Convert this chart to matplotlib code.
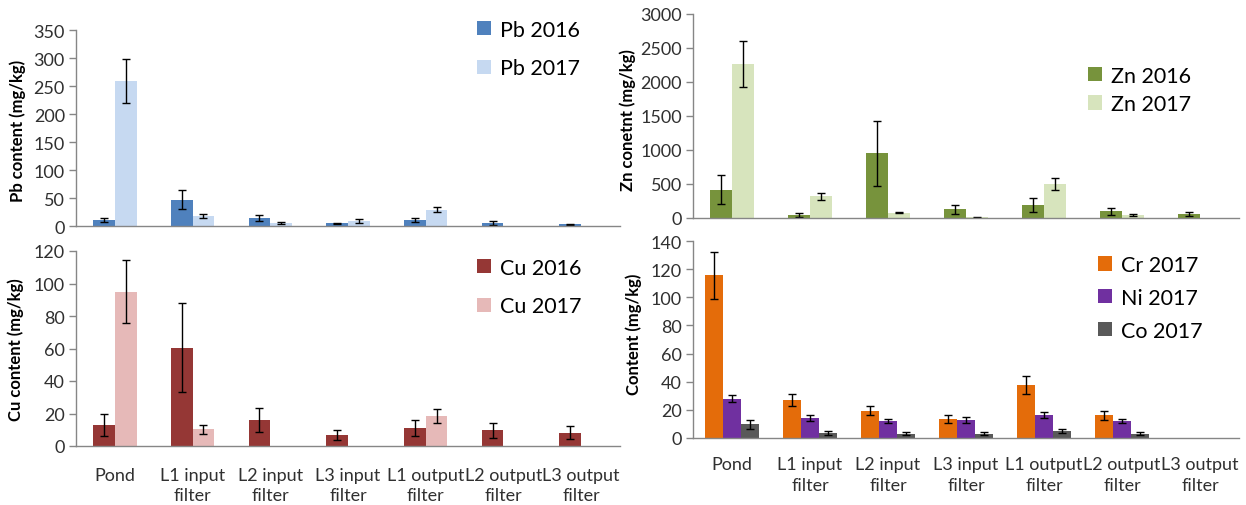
import numpy as np
import matplotlib
matplotlib.use("Agg")
import matplotlib.pyplot as plt

plt.rcParams['font.family'] = ['Lato', 'DejaVu Sans']

nan = np.nan

categories = ['Pond', 'L1 input\nfilter', 'L2 input\nfilter', 'L3 input\nfilter',
              'L1 output\nfilter', 'L2 output\nfilter', 'L3 output\nfilter']

# Pb (mg/kg)
pb_2016 = [11, 47, 14, 5, 10, 5.5, 3]
pb_2016_err = [4, 17, 5, 1, 3.5, 3, 1]
pb_2017 = [259, 18, 6, 9, 29, nan, nan]
pb_2017_err = [39, 3.5, 2, 3, 4.3, nan, nan]

# Zn (mg/kg)
zn_2016 = [417, 44, 951, 127, 196, 98, 59]
zn_2016_err = [215, 30, 478, 68, 105, 49, 30]
zn_2017 = [2265, 319, 78, 10, 500, 44, nan]
zn_2017_err = [343, 49, 8, 4, 83, 8, nan]

# Cu (mg/kg)
cu_2016 = [13, 60.5, 16, 6.8, 11, 9.7, 8.2]
cu_2016_err = [6.6, 27.5, 7.5, 3.3, 5, 4.6, 3.9]
cu_2017 = [95, 10.3, nan, nan, 18.7, nan, nan]
cu_2017_err = [19.4, 2.9, nan, nan, 4.3, nan, nan]

# Cr, Ni, Co 2017 (mg/kg)
cr_2017 = [115.5, 27, 19.4, 13.8, 37.8, 16.2, nan]
cr_2017_err = [17, 4.5, 3.3, 2.8, 6.4, 3.3, nan]
ni_2017 = [28, 14, 12.1, 13, 16.4, 12.1, nan]
ni_2017_err = [2.7, 2, 1.5, 2, 2, 1.5, nan]
co_2017 = [9.7, 3.8, 3.1, 3.1, 4.7, 3.1, nan]
co_2017_err = [3.2, 1.5, 1.3, 1.3, 1.5, 1.3, nan]

W, H = 1246, 506
fig = plt.figure(figsize=(W / 100, H / 100), dpi=100)


def px_axes(left, top, right, bottom):
    return fig.add_axes([left / W, 1 - bottom / H, (right - left) / W, (bottom - top) / H])


def grouped(ax, series, width):
    x = np.arange(len(categories))
    n = len(series)
    offs = (np.arange(n) - (n - 1) / 2) * width
    for (vals, errs, color, label), o in zip(series, offs):
        ax.bar(x + o, vals, width, color=color, label=label, linewidth=0)
        ax.errorbar(x + o, vals, yerr=errs, fmt='none', ecolor='black',
                    elinewidth=1, capsize=3, capthick=1)
    ax.set_xlim(-0.5, len(categories) - 0.5)


def style(ax, ymax, step, ylabel, lab_xy, xpad=None):
    ax.set_ylim(0, ymax)
    ax.set_yticks(np.arange(0, ymax + step / 2, step))
    for s in ['top', 'right']:
        ax.spines[s].set_visible(False)
    for s in ['left', 'bottom']:
        ax.spines[s].set_color('#868686')
        ax.spines[s].set_linewidth(1)
    ax.tick_params(axis='y', direction='out', length=5, width=1, color='#868686',
                   labelsize=13, labelcolor='#303030', pad=3)
    ax.set_xticks(np.arange(len(categories)))
    if xpad is not None:
        ax.set_xticklabels(categories, fontsize=13, color='#303030', linespacing=1.35)
        ax.tick_params(axis='x', length=0, pad=xpad)
    else:
        ax.set_xticklabels([])
        ax.tick_params(axis='x', length=0)
    ax.set_ylabel(ylabel, fontsize=12, fontweight='bold', color='black', va='center')
    ax.yaxis.set_label_coords(*lab_xy, transform=fig.transFigure)


def legend(ax, x, y, spacing):
    ax.legend(loc='center left', bbox_to_anchor=(x / W, 1 - y / H),
              bbox_transform=fig.transFigure, frameon=False, fontsize=15.5,
              handlelength=0.63, handleheight=0.63, handletextpad=0.45,
              labelspacing=spacing, borderpad=0, borderaxespad=0)


# Pb
ax1 = px_axes(76, 31, 620, 227)
grouped(ax1, [(pb_2016, pb_2016_err, '#4F81BD', 'Pb 2016'),
              (pb_2017, pb_2017_err, '#C6D9F1', 'Pb 2017')], 0.28)
style(ax1, 350, 50, 'Pb content (mg/kg)', (18 / W, 1 - 131 / H))
legend(ax1, 477, 50, 0.88)

# Zn
ax2 = px_axes(693, 15, 1239, 219)
grouped(ax2, [(zn_2016, zn_2016_err, '#77933C', 'Zn 2016'),
              (zn_2017, zn_2017_err, '#D7E4BD', 'Zn 2017')], 0.28)
style(ax2, 3000, 500, 'Zn conetnt (mg/kg)', (628 / W, 1 - 120 / H))
legend(ax2, 1088, 91, 0.38)

# Cu
ax3 = px_axes(76, 252, 620, 447)
grouped(ax3, [(cu_2016, cu_2016_err, '#953735', 'Cu 2016'),
              (cu_2017, cu_2017_err, '#E6B9B8', 'Cu 2017')], 0.28)
style(ax3, 120, 20, 'Cu content (mg/kg)', (16 / W, 1 - 350 / H), xpad=15)
legend(ax3, 477, 288, 0.88)

# Cr, Ni, Co
ax4 = px_axes(693, 242, 1239, 439)
grouped(ax4, [(cr_2017, cr_2017_err, '#E46C0A', 'Cr 2017'),
              (ni_2017, ni_2017_err, '#7030A0', 'Ni 2017'),
              (co_2017, co_2017_err, '#595959', 'Co 2017')], 0.23)
style(ax4, 140, 20, 'Content (mg/kg)', (634 / W, 1 - 334 / H), xpad=13)
legend(ax4, 1098, 299, 0.6)

fig.savefig('out.png', dpi=100)
